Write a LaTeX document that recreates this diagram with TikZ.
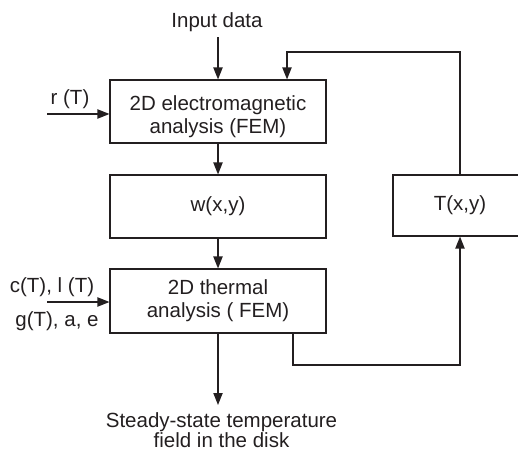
\documentclass[tikz,border=0pt]{standalone}
\usepackage{fontspec}
\setmainfont{Liberation Sans}
\usetikzlibrary{arrows.meta}
\definecolor{ink}{HTML}{231F20}
\begin{document}
\begin{tikzpicture}[x=0.5pt,y=-0.5pt,
  every node/.style={font=\fontsize{10.25pt}{11.5pt}\selectfont, text=ink},
  box/.style={draw=ink, line width=0.55pt, minimum width=108pt, align=center, inner sep=0pt},
  lbl/.style={inner sep=0pt, anchor=base},
  arr/.style={draw=ink, line width=0.7pt, -{Triangle[length=6pt,width=4.6pt]}},
  ln/.style={draw=ink, line width=0.7pt}]
\clip (0,0) rectangle (518,454);
\node[box, minimum height=31.5pt] (em) at (218,111.5) {2D electromagnetic\rule{0pt}{12.5pt}\\analysis (FEM)};
\node[box, minimum height=31.5pt] (w) at (218,206.5) {w(x,y)};
\node[box, minimum height=32pt] (th) at (218,301) {2D thermal\\analysis ( FEM)};
\node[box, minimum width=67pt, minimum height=30.5pt] (tb) at (460,205.5) {T(x,y)};
\node[lbl] (in) at (217,27.5) {Input data};
\node[lbl] (rl) at (70,105) {r (T)};
\node[lbl] (cl) at (52,292) {c(T), l (T)};
\node[lbl] (gl) at (57,326) {g(T), a, e};
\node[inner sep=0pt, anchor=north, align=center, font=\fontsize{10.25pt}{10pt}\selectfont] (out) at (221.5,412) {Steady-state temperature\\field in the disk};
\coordinate (fb) at (287,52);
\coordinate (rin) at (47,114);
\coordinate (cin) at (47,302);
\coordinate (tr) at (293,365);
\draw[arr] ([yshift=-2.5pt]in.south -| em.north) -- (em.north);
\draw[arr] (tb.north) |- (fb) -- (fb |- em.north);
\draw[arr] (rin) -- (rin -| em.west);
\draw[arr] (em.south) -- (w.north);
\draw[arr] (w.south) -- (th.north);
\draw[arr] (cin) -- (cin -| th.west);
\draw[arr] (th.south) -- ([yshift=3.5pt]out.north -| th.south);
\draw[arr] (th.south -| tr) -- (tr) -| (tb.south);
\end{tikzpicture}
\end{document}
